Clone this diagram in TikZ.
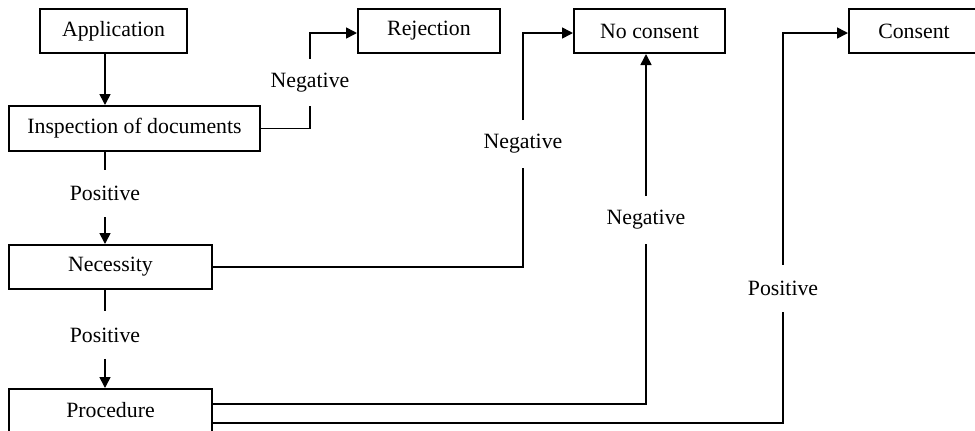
\documentclass[tikz,border=0pt]{standalone}
\usepackage{fontspec}
\setmainfont{Liberation Serif}
\usetikzlibrary{arrows.meta}
\tikzset{box/.style={rectangle, draw, line width=1pt, inner sep=0pt,
   font=\fontsize{10.9}{13}\selectfont}}
\tikzset{answer/.style={inner sep=0pt, minimum height=23.5pt,
   font=\fontsize{10.9}{13}\selectfont}}
\tikzset{link/.style={line width=0.8pt}}
\tikzset{arr/.style={link, -{Triangle[length=5.5pt,width=5.5pt]}}}

\begin{document}
\begin{tikzpicture}[x=0.5pt, y=-0.5pt]

    \useasboundingbox (0,0) rectangle (975,430);

    % boxes
    \node[box, minimum width=73.5pt, minimum height=22pt]   (app)   at (113.5,31)  {Application};
    \node[box, minimum width=71pt, minimum height=22pt]     (rej)   at (429,31)    {Rejection};
    \node[box, minimum width=75.5pt, minimum height=22pt]   (nocon) at (649.5,31)  {No consent};
    \node[box, minimum width=65pt, minimum height=22pt]     (con)   at (914,31)    {Consent};
    \node[box, minimum width=125.5pt, minimum height=22.5pt] (insp) at (134.5,128.5) {Inspection of documents};
    \node[box, minimum width=101.5pt, minimum height=22pt]  (nec)   at (110.5,267) {Necessity};
    \node[box, minimum width=101.5pt, minimum height=21.5pt] (proc) at (110.5,410.5) {Procedure};

    % answers
    \coordinate (spine) at (105,0);
    \node[answer] (neg1) at (310,82.5)  {Negative};
    \node[answer] (pos1) at (105,193.5) {Positive};
    \node[answer] (neg2) at (523,144)   {Negative};
    \node[answer] (pos2) at (105,335)   {Positive};
    \node[answer] (neg3) at (646,220)   {Negative};
    \node[answer] (pos3) at (783,288.5) {Positive};

    \draw[arr] (app.south -| spine) -- (insp.north -| spine);

    \draw[link] (insp.east) -| (neg1.south);
    \draw[arr] (neg1.north) |- ([yshift=-1pt]rej.west);

    \draw[link] (insp.south -| spine) -- (pos1.north);
    \draw[arr] (pos1.south) -- (nec.north -| spine);

    \draw[link] (nec.east) -| (neg2.south);
    \draw[arr] (neg2.north) |- ([yshift=-1pt]nocon.west);

    \draw[link] (nec.south -| spine) -- (pos2.north);
    \draw[arr] (pos2.south) -- (proc.north -| spine);

    \draw[link] ([yshift=3.25pt]proc.east) -| (neg3.south);
    \draw[arr] (neg3.north) -- (neg3.north |- nocon.south);

    \draw[link] ([yshift=-6.25pt]proc.east) -| (pos3.south);
    \draw[arr] (pos3.north) |- ([yshift=-1pt]con.west);

\end{tikzpicture}
\end{document}
